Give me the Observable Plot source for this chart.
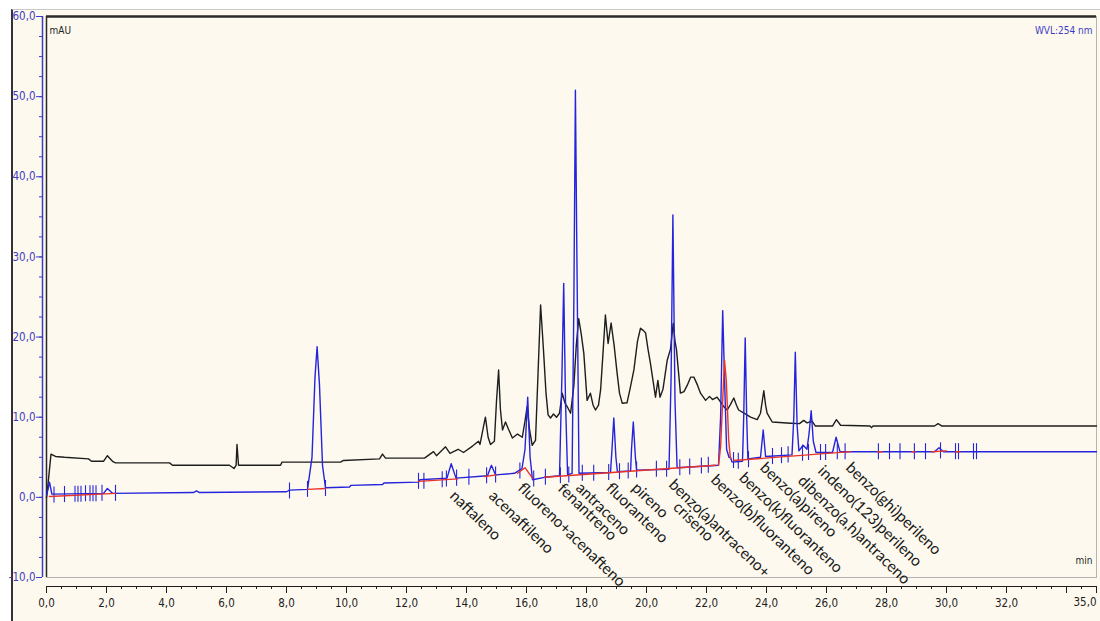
<!DOCTYPE html>
<html><head><meta charset="utf-8">
<script src="https://cdn.jsdelivr.net/npm/d3@7"></script>
<script src="https://cdn.jsdelivr.net/npm/@observablehq/plot@0.6"></script>
<style>
body{margin:0;background:#fff;}
#wrap{position:relative;width:1100px;height:621px;overflow:hidden;background:#fff;}
#panel{position:absolute;left:11px;top:9px;right:0;bottom:0;background:#fdf9ee;border-left:2px solid #333;border-top:1px solid #c8c8c8;}
#chart{position:absolute;left:0;top:0;}
</style></head>
<body><div id="wrap"><div id="panel"></div><div id="chart"></div></div>
<script>
// ---- Data ----
// Sample trace (black): retention time (min) and absorbance (mAU)
const blackTime = [0.0,0.02,0.15,0.3,0.6,1.4,1.5,1.9,2.03,2.2,2.3,4.1,4.2,6.1,6.25,6.32,6.35,6.4,7.8,7.85,9.8,9.9,11.1,11.2,11.3,12.6,12.9,13.0,13.3,13.45,13.72,13.9,14.2,14.4,14.45,14.55,14.63,14.72,14.8,14.93,15.0,15.07,15.13,15.2,15.3,15.4,15.53,15.7,15.86,15.95,16.02,16.1,16.19,16.3,16.38,16.47,16.53,16.58,16.65,16.72,16.8,16.9,17.0,17.1,17.19,17.28,17.36,17.47,17.58,17.66,17.74,17.82,17.91,18.02,18.13,18.22,18.3,18.4,18.47,18.55,18.63,18.72,18.82,18.92,19.02,19.1,19.19,19.35,19.45,19.58,19.7,19.8,19.9,19.97,20.05,20.13,20.22,20.3,20.38,20.45,20.55,20.69,20.8,20.89,20.95,21.0,21.07,21.13,21.25,21.36,21.47,21.58,21.7,21.8,21.97,22.1,22.2,22.35,22.47,22.58,22.69,22.8,22.91,23.0,23.07,23.25,23.47,23.69,23.8,23.91,23.97,24.02,24.19,24.8,25.1,25.24,25.35,25.52,25.63,26.2,26.33,26.47,27.45,27.5,27.55,29.6,29.72,29.85,35.0];
const blackMAU  = [0.0,0.5,5.4,5.1,5.0,4.8,4.5,4.5,5.2,4.5,4.3,4.3,4.0,4.0,3.6,4.0,6.6,4.0,4.0,4.4,4.4,4.6,4.8,5.4,4.9,4.9,5.7,5.2,6.3,5.5,6.0,5.6,6.4,7.0,6.6,8.5,10.0,7.5,6.6,7.0,12.0,15.9,11.0,8.4,9.4,8.5,7.4,7.9,7.5,9.5,11.3,8.5,6.5,7.1,15.0,24.0,20.5,17.5,13.0,10.3,9.9,10.4,10.0,10.5,13.0,11.8,11.3,10.5,14.0,19.0,22.3,20.5,18.0,12.1,13.0,11.5,10.9,11.5,13.4,18.0,22.75,19.2,21.75,19.0,15.5,13.0,11.75,11.8,13.5,15.9,19.5,21.1,20.8,20.5,18.5,16.75,14.5,12.5,14.6,12.5,13.5,17.1,18.5,21.7,19.5,18.4,15.5,13.0,13.2,14.0,15.0,15.0,14.0,13.0,12.1,12.6,12.2,12.5,11.9,11.3,10.9,11.6,12.4,11.5,10.9,10.5,10.0,9.7,10.5,13.3,11.5,10.5,9.4,9.25,9.2,9.6,9.3,9.5,8.9,8.9,9.7,9.0,8.9,8.7,8.9,8.9,9.2,8.9,8.9];

// Standard trace (blue)
const blueTime = [0.0,0.05,0.1,0.18,1.9,2.03,2.2,4.9,5.0,5.1,8.0,8.1,8.7,8.85,8.95,9.02,9.1,9.2,9.3,10.1,10.15,11.2,11.25,12.4,12.45,13.35,13.49,13.65,14.7,14.83,14.97,15.6,15.85,15.95,16.04,16.12,16.2,16.6,17.1,17.18,17.24,17.3,17.37,17.52,17.58,17.63,17.68,17.75,18.8,18.85,18.91,18.98,19.03,19.47,19.5,19.56,19.63,19.67,20.75,20.82,20.88,20.95,21.02,22.4,22.47,22.54,22.6,22.67,22.75,22.8,22.85,23.2,23.24,23.29,23.34,23.38,23.8,23.89,23.97,24.85,24.91,24.96,25.02,25.08,25.22,25.35,25.42,25.49,25.56,25.65,26.2,26.32,26.45,29.6,29.75,29.9,35.0];
const blueMAU  = [0.3,1.0,1.9,0.4,0.5,1.1,0.5,0.6,0.8,0.6,0.7,0.9,1.0,5.0,15.0,18.8,14.0,4.0,1.2,1.3,1.5,1.6,1.8,1.9,2.2,2.4,4.2,2.4,2.7,4.0,2.8,3.0,3.6,6.0,12.5,5.0,2.2,2.5,2.7,15.0,26.7,12.0,2.8,3.0,25.0,50.8,30.0,3.0,3.1,6.0,9.9,5.0,3.2,3.3,6.0,9.4,5.0,3.4,3.5,15.0,35.25,12.0,3.7,4.0,10.0,23.3,15.0,6.0,5.0,5.0,4.4,4.5,10.0,19.9,10.0,4.8,5.0,8.4,5.1,5.3,10.0,18.1,9.0,5.8,6.5,6.0,8.0,10.8,7.0,5.6,5.6,7.5,5.7,5.7,6.2,5.7,5.7];

// Integration baselines (red): segment id, time, mAU
const redSeg  = [1,1, 2,2, 3,3, 4,4, 5,5,5, 6,6, 7,7,7,7,7,7, 8,8, 9,9, 10,10, 11,11, 12,12];
const redTime = [0.1,2.3, 8.7,9.3, 12.4,13.7, 14.6,15.0, 15.7,15.95,16.2, 16.6,22.3, 22.4,22.47,22.6,22.66,22.74,22.8, 22.9,26.8, 27.7,27.85, 28.85,28.95, 29.5,30.0, 30.3,30.45];
const redMAU  = [0.1,0.5, 1.0,1.1, 2.0,2.3, 2.6,2.8, 3.0,3.7,2.4, 2.5,4.0, 4.0,6.3,17.1,14.6,7.1,4.8, 4.6,5.7, 5.7,5.7, 5.7,5.7, 5.7,5.8, 5.7,5.7];

// Peak start/end markers (blue ticks): time and baseline mAU
const markTime = [0.25,0.6,0.95,1.05,1.15,1.3,1.45,1.55,1.65,1.85,2.3,8.1,8.7,9.3,12.4,12.58,13.19,13.33,13.67,14.08,14.67,14.97,15.78,16.24,16.63,17.13,17.41,17.86,18.24,18.74,19.1,19.39,19.67,20.33,20.67,21.11,21.44,21.83,22.06,22.9,23.06,23.4,24.2,24.5,24.72,25.2,25.4,25.8,25.97,26.36,26.62,27.73,28.1,28.45,28.93,29.3,29.8,30.3,30.4,30.9,31.0];
const markMAU  = [0.3,0.35,0.4,0.4,0.4,0.45,0.45,0.45,0.45,0.5,0.5,0.8,1.0,1.1,2.0,2.0,2.2,2.3,2.4,2.5,2.7,2.8,3.3,2.3,2.5,2.7,2.8,3.0,3.0,3.1,3.2,3.3,3.4,3.5,3.5,3.7,3.8,3.9,4.0,4.6,4.5,4.7,5.1,5.2,5.3,5.5,5.6,5.6,5.6,5.7,5.7,5.7,5.7,5.7,5.7,5.7,5.8,5.7,5.7,5.7,5.7];

// Compound labels: name, retention time, mAU where the label begins
const compoundNames = ["naftaleno","acenaftileno","fluoreno+acenafteno","fenantreno","antraceno","fluoranteno","pireno","benzo(a)antraceno+","criseno","benzo(b)fluoranteno","benzo(k)fluoranteno","benzo(a)pireno","dibenzo(a,h)antraceno","indeno(123)perileno","benzo(ghi)perileno"];
const compoundTime  = [13.53,14.83,15.8,17.13,17.73,18.73,19.6,20.83,20.97,22.23,23.17,23.87,25.13,25.8,26.73];
const compoundMAU   = [0.5,0.5,1.5,1.4,1.5,1.5,1.5,1.9,-0.9,2.5,2.75,4.0,2.4,3.6,4.0];

// Axis ticks
const yTickValues = [-10,0,10,20,30,40,50,60];
const xTickValues = [0,2,4,6,8,10,12,14,16,18,20,22,24,26,28,30,32,34,35];
const xTickLabels = ["0,0","2,0","4,0","6,0","8,0","10,0","12,0","14,0","16,0","18,0","20,0","22,0","24,0","26,0","28,0","30,0","32,0","",""];
const xEndLabel = "35,0";

// ---- Chart ----
const BLUE = "#2424dc", AXBLUE = "#3d3dc4", RED = "#e8322c", BLACK = "#1e1e1e";
const narrow = "'Liberation Sans Narrow','DejaVu Sans Condensed',Arial,sans-serif";

const chart = Plot.plot({
  width: 1100, height: 621,
  marginLeft: 46, marginRight: 4, marginTop: 16, marginBottom: 44,
  style: {background: "transparent", fontFamily: narrow, overflow: "visible"},
  x: {domain: [0, 35]},
  y: {domain: [-10, 60]},
  marks: [
    Plot.frame({stroke: "#b4b4b4"}),
    Plot.ruleY([60], {stroke: "#2a2a2a", strokeWidth: 2.5}),
    Plot.ruleX([0], {stroke: "#2a2a2a", strokeWidth: 1.5}),
    // y axis (blue)
    Plot.ruleX([0], {dx: -4, stroke: AXBLUE, strokeWidth: 1.5}),
    Plot.axisY({interval: 2.5, tickSize: 3, dx: -4, text: null, color: AXBLUE, label: null}),
    Plot.axisY({ticks: yTickValues, tickSize: 6, dx: -4, tickPadding: 1, color: AXBLUE, label: null, fontSize: 11.5,
      tickFormat: d => d.toFixed(1).replace(".", ",")}),
    // x axis (separate, below the plot)
    Plot.ruleY([-10], {dy: 9, stroke: BLACK, strokeWidth: 1.2}),
    Plot.axisX({interval: 0.5, tickSize: 3, dy: 9, text: null, color: BLACK, label: null}),
    Plot.axisX({ticks: xTickValues, tickSize: 7, dy: 9, tickPadding: 5, color: BLACK, label: null, fontSize: 11.5,
      tickFormat: d => xTickLabels[xTickValues.indexOf(d)]}),
    Plot.text([xEndLabel], {frameAnchor: "bottom-right", dy: 28, textAnchor: "end", fontSize: 11.5, fill: BLACK}),
    // traces
    Plot.line(blackMAU, {x: blackTime, y: blackMAU, stroke: BLACK, strokeWidth: 1.4}),
    Plot.ruleX(markTime, {x: markTime, y1: markMAU.map(v => v - 1), y2: markMAU.map(v => v + 1), stroke: BLUE, strokeWidth: 1.1}),
    Plot.line(blueMAU, {x: blueTime, y: blueMAU, stroke: BLUE, strokeWidth: 1.4}),
    Plot.line(redMAU, {x: redTime, y: redMAU, z: redSeg, stroke: RED, strokeWidth: 1.4}),
    // compound labels
    Plot.text(compoundNames, {x: compoundTime, y: compoundMAU, text: d => d, rotate: 44, textAnchor: "start",
      fontSize: 15.5, fontFamily: "Lato, 'Open Sans', sans-serif", fill: "#1a1a1a"}),
    // annotations
    Plot.text(["mAU"], {frameAnchor: "top-left", dx: 3, dy: 10, fontSize: 10, fill: BLACK, textAnchor: "start"}),
    Plot.text(["WVL:254 nm"], {frameAnchor: "top-right", dx: -4, dy: 10, fontSize: 10, fill: AXBLUE, textAnchor: "end"}),
    Plot.text(["min"], {frameAnchor: "bottom-right", dx: -4, dy: -14, fontSize: 10, fill: BLACK, textAnchor: "end"})
  ]
});
document.getElementById("chart").appendChild(chart);
</script>
</body></html>
